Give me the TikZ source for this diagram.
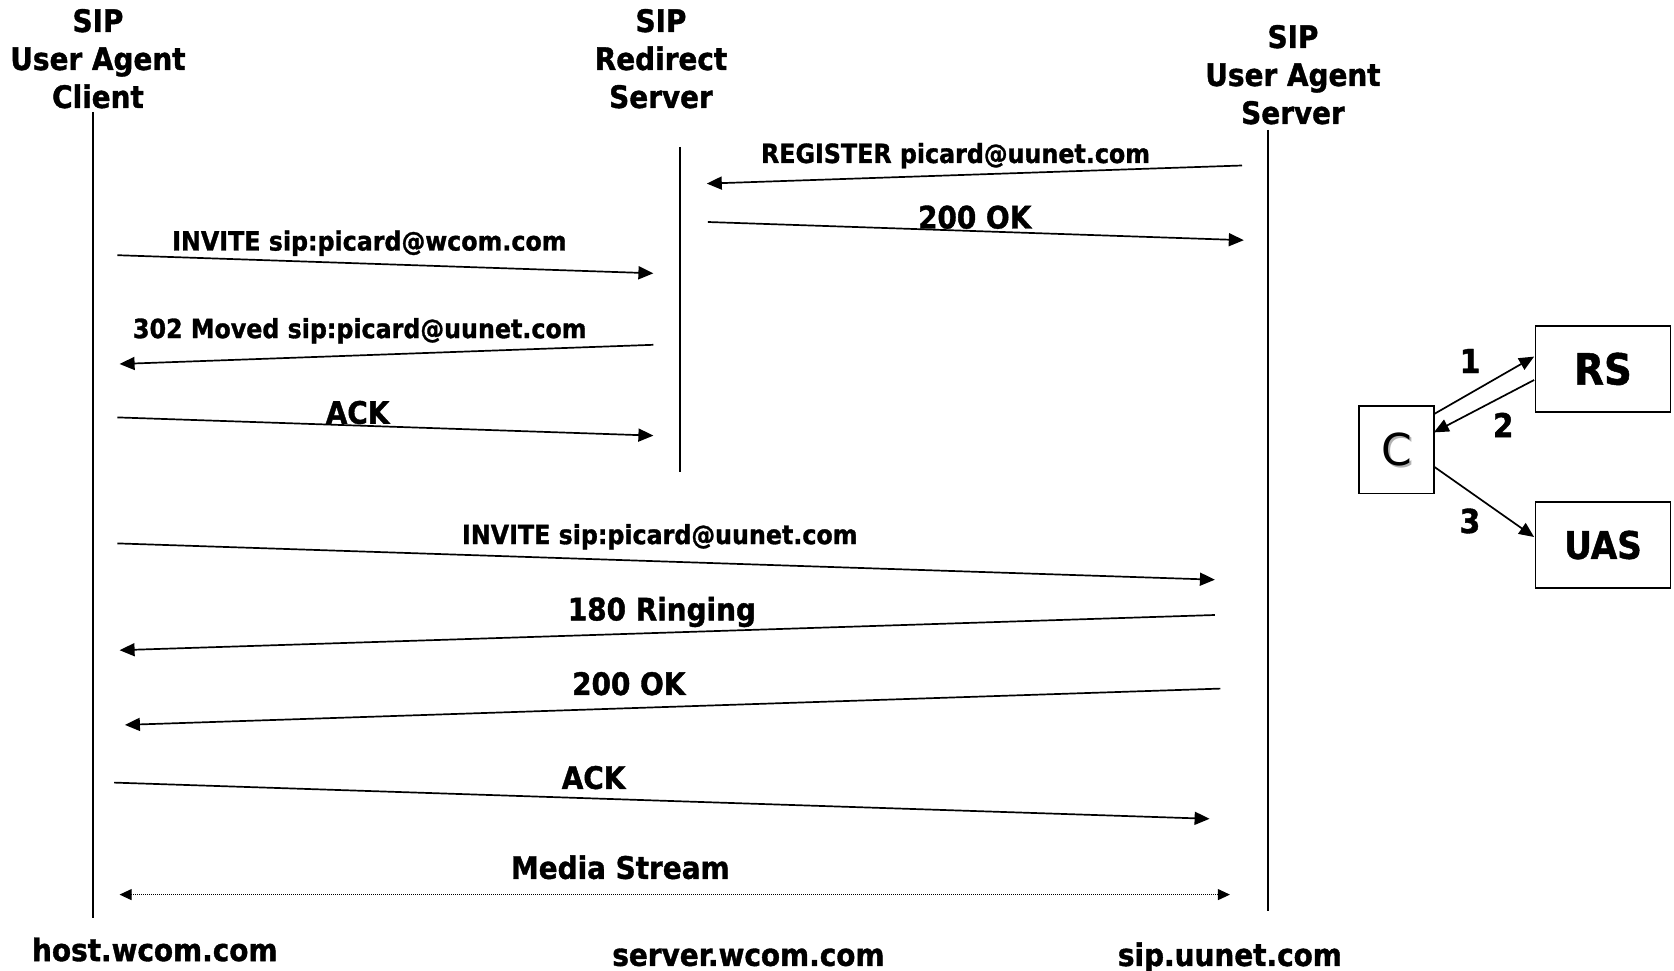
\documentclass[tikz,border=0pt]{standalone}
\usepackage{fontspec}
\setmainfont{DejaVu Sans Condensed}[BoldFont={DejaVu Sans Condensed Bold}, BoldFeatures={FakeBold=1.2}]
\newfontfamily\plainface{DejaVu Sans}
\usetikzlibrary{arrows.meta}
\begin{document}
\begin{tikzpicture}[x=1pt,y=-1pt,
  big/.style={font=\fontsize{31}{38}\selectfont\bfseries, inner sep=0pt, align=center},
  small/.style={font=\fontsize{26.4}{32}\selectfont\bfseries, inner sep=0pt},
  lifeline/.style={line width=1.5pt},
  msg/.style={line width=1.7pt, -{Triangle[length=15pt,width=13pt]}},
  media/.style={line width=1pt, dash pattern=on 1pt off 1pt,
    {Triangle[length=12pt,width=11pt]}-{Triangle[length=12pt,width=11pt]}},
  box/.style={draw, line width=1.5pt, minimum width=135pt, minimum height=86pt,
    font=\fontsize{38}{44}\selectfont\bfseries},
  num/.style={font=\fontsize{33}{38}\selectfont\bfseries, inner sep=0pt}]
\useasboundingbox (0,0) rectangle (1674,971);

% participants
\node[big] (hc) at (98,58.7) {SIP\\User Agent\\Client};
\node[big] (hr) at (661,58.7) {SIP\\Redirect\\Server};
\node[big] (hs) at (1293,74.7) {SIP\\User Agent\\Server};

% lifelines
\coordinate (ct) at (92.9,112); \coordinate (cb) at (92.9,918);
\coordinate (rt) at (680,147);  \coordinate (rb) at (680,472);
\coordinate (st) at (1268,130); \coordinate (sb) at (1268,911);
\draw[lifeline] (ct) -- (cb);
\draw[lifeline] (rt) -- (rb);
\draw[lifeline] (st) -- (sb);

% message end points
\coordinate (m1a) at (1242,165.5);   \coordinate (m1b) at (706.8,183.6);
\coordinate (m2a) at (707.8,222);    \coordinate (m2b) at (1243.8,240.2);
\coordinate (m3a) at (117.4,255.2);  \coordinate (m3b) at (653.4,273.3);
\coordinate (m4a) at (653.4,344.8);  \coordinate (m4b) at (119.6,364);
\coordinate (m5a) at (117.4,417.4);  \coordinate (m5b) at (653.4,435.6);
\coordinate (m6a) at (117.4,543.4);  \coordinate (m6b) at (1214.9,579.7);
\coordinate (m7a) at (1214.9,615);   \coordinate (m7b) at (119.6,650.2);
\coordinate (m8a) at (1220.3,688.6); \coordinate (m8b) at (124.9,724.9);
\coordinate (m9a) at (114.2,782.6);  \coordinate (m9b) at (1209.6,818.8);
\coordinate (mma) at (119.6,894.6);  \coordinate (mmb) at (1229.9,894.6);

% messages
\draw[msg] (m1a) -- (m1b);
\draw[msg] (m2a) -- (m2b);
\draw[msg] (m3a) -- (m3b);
\draw[msg] (m4a) -- (m4b);
\draw[msg] (m5a) -- (m5b);
\draw[msg] (m6a) -- (m6b);
\draw[msg] (m7a) -- (m7b);
\draw[msg] (m8a) -- (m8b);
\draw[msg] (m9a) -- (m9b);
\draw[media] (mma) -- (mmb);

% message labels
\node[small] (l1) at (955.5,155.7) {REGISTER picard@uunet.com};
\node[big]   (l2) at (974.7,217.2) {200 OK};
\node[small] (l3) at (369.4,243.2) {INVITE sip:picard@wcom.com};
\node[small] (l4) at (359.8,330.8) {302 Moved sip:picard@uunet.com};
\node[big]   (l5) at (357.6,412.5) {ACK};
\node[small] (l6) at (659.8,536.8) {INVITE sip:picard@uunet.com};
\node[big]   (l7) at (661.9,612) {180 Ringing};
\node[big]   (l8) at (628.8,683.7) {200 OK};
\node[big]   (l9) at (593.6,777.6) {ACK};
\node[big]   (lm) at (620.3,867.3) {Media Stream};

% host names
\node[big] (hn1) at (154.8,949.5) {host.wcom.com};
\node[big] (hn2) at (748.4,957.4) {server.wcom.com};
\node[big] (hn3) at (1229.9,957.4) {sip.uunet.com};

% overview: client, redirect server, user agent server
\node[box, minimum width=74.8pt, minimum height=87.5pt] (c) at (1396.4,449.5) {};
\node[font=\fontsize{44}{50}\plainface, text=gray!60, inner sep=0pt] at (1398.4,451.5) {C};
\node[font=\fontsize{44}{50}\plainface, inner sep=0pt] (cl) at (1396.4,449.5) {C};
\node[box, font=\fontsize{43}{48}\selectfont\bfseries] (rs) at (1603,368.9) {RS};
\node[box] (uas) at (1603,545) {UAS};

\coordinate (a1s) at (1433.8,414.2); \coordinate (a1e) at (1534.1,356.6);
\coordinate (a2s) at (1534.1,380);   \coordinate (a2e) at (1433.8,432.4);
\coordinate (a3s) at (1433.8,466.5); \coordinate (a3e) at (1534.1,537);
\draw[msg] (a1s) -- (a1e);
\draw[msg] (a2s) -- (a2e);
\draw[msg] (a3s) -- (a3e);
\node[num] (n1) at (1470,361) {1};
\node[num] (n2) at (1503.2,425) {2};
\node[num] (n3) at (1470,521) {3};
\end{tikzpicture}
\end{document}
